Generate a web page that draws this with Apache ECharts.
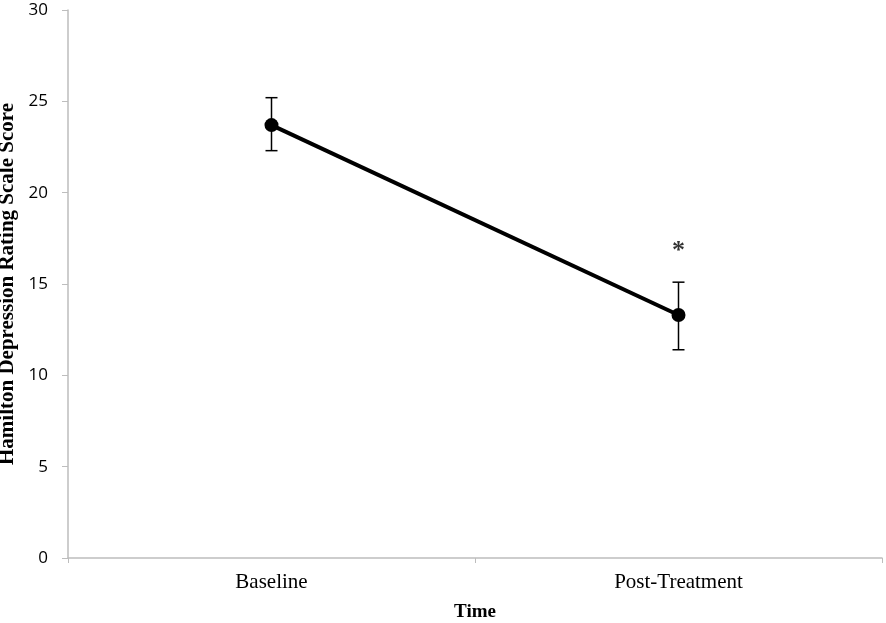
<!DOCTYPE html>
<html>
<head>
<meta charset="utf-8">
<script src="https://cdn.jsdelivr.net/npm/echarts@6/dist/echarts.min.js"></script>
<style>html,body{margin:0;padding:0;background:#fff}#c{width:886px;height:623px}</style>
</head>
<body>
<div id="c"></div>
<script>
var categories = ['Baseline', 'Post-Treatment'];
var means = [23.7, 13.3];
var errUpper = [25.2, 15.1];
var errLower = [22.3, 11.4];
var starLabels = ['', '*'];
var starY = [null, 17.0];
var yTicks = { min: 0, max: 30, interval: 5 };

var chart = echarts.init(document.getElementById('c'));
var errData = categories.map(function (c, i) { return [i, errLower[i], errUpper[i]]; });
chart.setOption({
  animation: false,
  grid: { left: 68, right: 4, top: 10, bottom: 65, containLabel: false, outerBoundsMode: 'none' },
  xAxis: {
    type: 'category', data: categories, boundaryGap: true,
    name: 'Time', nameLocation: 'middle', nameGap: 45,
    nameTextStyle: { fontFamily: 'Liberation Serif', fontWeight: 'bold', fontSize: 19, color: '#000' },
    axisLine: { lineStyle: { color: '#bdbdbd', width: 1.5 } },
    axisTick: { show: true, length: 5, alignWithLabel: false, lineStyle: { color: '#bdbdbd' } },
    axisLabel: { fontFamily: 'Liberation Serif', fontSize: 21, color: '#000', margin: 14 }
  },
  yAxis: {
    type: 'value', min: yTicks.min, max: yTicks.max, interval: yTicks.interval,
    name: 'Hamilton Depression Rating Scale Score', nameLocation: 'middle', nameGap: 41,
    nameTextStyle: { fontFamily: 'Liberation Serif', fontWeight: 'bold', fontSize: 21, color: '#000' },
    axisLine: { show: true, lineStyle: { color: '#bdbdbd', width: 1.5 } },
    axisTick: { show: true, length: 6, lineStyle: { color: '#bdbdbd' } },
    splitLine: { show: false },
    axisLabel: { fontFamily: 'Open Sans', fontSize: 17, color: '#000', margin: 20 }
  },
  series: [
    {
      type: 'custom', z: 1,
      renderItem: function (params, api) {
        var x = api.value(0);
        var lo = api.coord([x, api.value(1)]);
        var hi = api.coord([x, api.value(2)]);
        var w = 6;
        var st = { stroke: '#000', lineWidth: 1.5 };
        return { type: 'group', children: [
          { type: 'line', shape: { x1: lo[0], y1: lo[1], x2: hi[0], y2: hi[1] }, style: st },
          { type: 'line', shape: { x1: lo[0] - w, y1: lo[1], x2: lo[0] + w, y2: lo[1] }, style: st },
          { type: 'line', shape: { x1: hi[0] - w, y1: hi[1], x2: hi[0] + w, y2: hi[1] }, style: st }
        ] };
      },
      data: errData
    },
    {
      type: 'line', z: 2, data: means,
      symbol: 'circle', symbolSize: 14,
      lineStyle: { color: '#000', width: 4 },
      itemStyle: { color: '#000' }
    },
    {
      type: 'scatter', z: 3, symbolSize: 0,
      data: starY.map(function (v, i) { return v == null ? null : [i, v]; }).filter(function(d){return d;}),
      label: { show: true, position: 'inside', offset: [0, 4], formatter: function (p) { return starLabels[p.data[0]]; },
        fontFamily: 'Liberation Serif', fontWeight: 'bold', fontSize: 26, color: '#000' }
    }
  ]
});
</script>
</body>
</html>
